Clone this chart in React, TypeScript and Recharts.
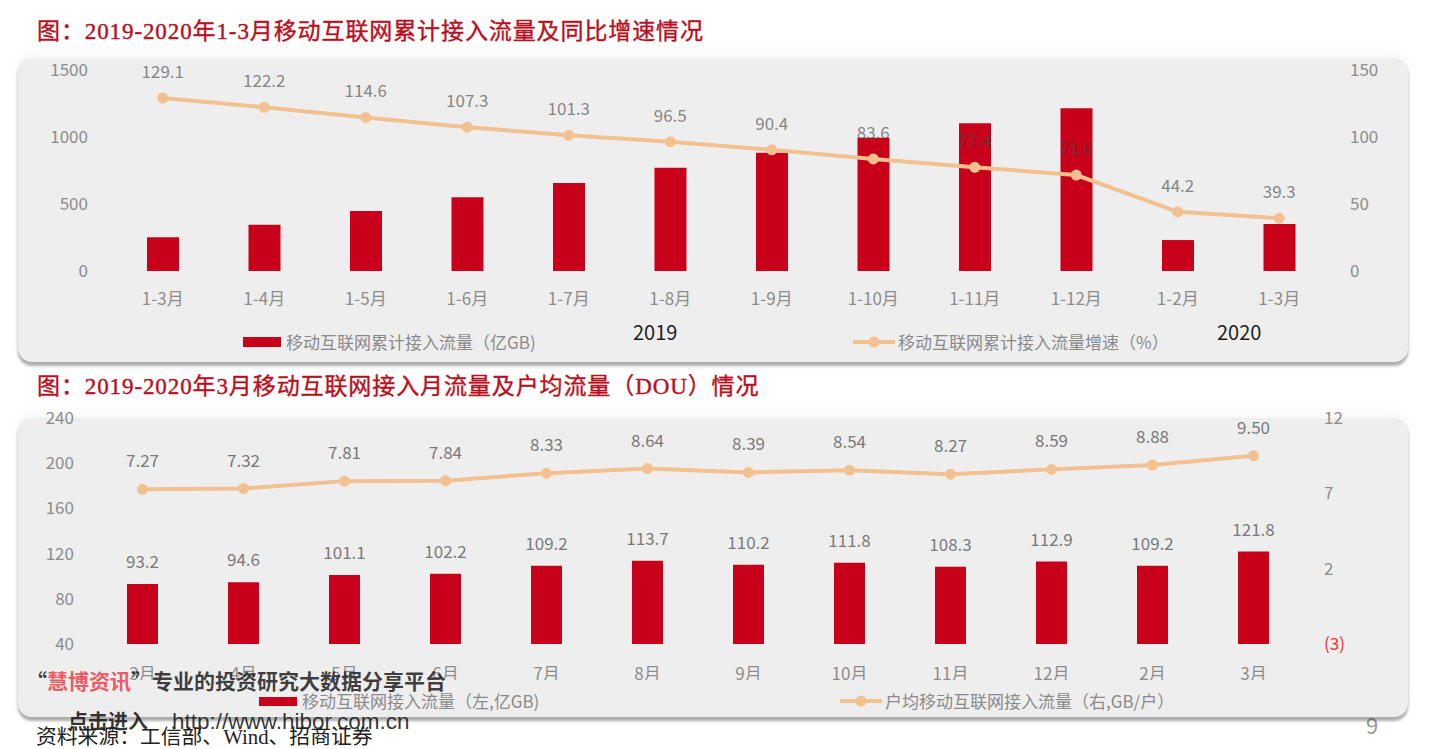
import React from 'react';
import { ComposedChart, Bar, Line, XAxis, YAxis, LabelList } from 'recharts';

// ---- Chart 1: cumulative traffic (1-N months) ----
const cumCategories = ['1-3月', '1-4月', '1-5月', '1-6月', '1-7月', '1-8月', '1-9月', '1-10月', '1-11月', '1-12月', '1-2月', '1-3月'];
const cumTraffic = [251, 346, 448, 550, 657, 771, 883, 995, 1102, 1214, 231, 351];
const cumGrowth = [129.1, 122.2, 114.6, 107.3, 101.3, 96.5, 90.4, 83.6, 77.4, 71.6, 44.2, 39.3];
const cumLeftTicks = [0, 500, 1000, 1500];
const cumRightTicks = [0, 50, 100, 150];
const cumYears = ['2019', '2020'];

// ---- Chart 2: monthly traffic and DOU ----
const monthCategories = ['3月', '4月', '5月', '6月', '7月', '8月', '9月', '10月', '11月', '12月', '2月', '3月'];
const monthTraffic = [93.2, 94.6, 101.1, 102.2, 109.2, 113.7, 110.2, 111.8, 108.3, 112.9, 109.2, 121.8];
const monthDou = [7.27, 7.32, 7.81, 7.84, 8.33, 8.64, 8.39, 8.54, 8.27, 8.59, 8.88, 9.5];
const monthLeftTicks = [40, 80, 120, 160, 200, 240];
const monthRightTicks = [-3, 2, 7, 12];

const cumData = cumCategories.map((name, i) => ({ name, traffic: cumTraffic[i], growth: cumGrowth[i] }));
const monthData = monthCategories.map((name, i) => ({ name, traffic: monthTraffic[i], dou: monthDou[i] }));

const FONT = "'Noto Sans CJK SC', 'Noto Sans', sans-serif";
const SERIF = "'Liberation Serif', 'DejaVu Serif', 'Noto Sans CJK SC', serif";
const BAR = '#c8001a';
const LINE = '#f3c08f';
const TICK = '#8c8c8c';
const LABEL = '#7a7a7a';
const TITLE = '#b8101e';

const tickStyle = { fill: TICK, fontSize: 17, fontFamily: FONT };

const RightTick = (props: any) => {
  const { x, y, payload } = props;
  const v = payload.value as number;
  const neg = v < 0;
  return (
    <text x={x} y={y} dy="0.355em" textAnchor="start" fontSize={17} fontFamily={FONT} fill={neg ? '#ff2a2a' : TICK}>
      {neg ? `(${Math.abs(v)})` : `${v}`}
    </text>
  );
};

const cardStyle = (top: number, height: number): React.CSSProperties => ({
  position: 'absolute',
  left: 18,
  top,
  width: 1390,
  height,
  background: '#eeeeef',
  borderRadius: 14,
  boxShadow: '0 4px 3px rgba(0,0,0,0.32), 0 -6px 14px rgba(0,0,0,0.04)',
});

const titleStyle = (top: number): React.CSSProperties => ({
  position: 'absolute',
  left: 37,
  top,
  fontFamily: SERIF,
  fontSize: 23,
  color: TITLE,
  letterSpacing: 0.9,
  whiteSpace: 'nowrap',
  lineHeight: '30px',
  WebkitTextStroke: '0.4px ' + TITLE,
});

const legendText: React.CSSProperties = {
  position: 'absolute',
  fontFamily: FONT,
  fontSize: 17,
  color: '#8a8a8a',
  whiteSpace: 'nowrap',
  lineHeight: '20px',
};

const LineSwatch = ({ left, top }: { left: number; top: number }) => (
  <svg style={{ position: 'absolute', left, top }} width={44} height={14}>
    <line x1={1} y1={7} x2={43} y2={7} stroke={LINE} strokeWidth={4} />
    <circle cx={22} cy={7} r={5.5} fill={LINE} />
  </svg>
);

export default function App() {
  return (
    <div style={{ position: 'absolute', left: 0, top: 0, width: 1440, height: 749, background: '#ffffff', overflow: 'hidden' }}>
      {/* page number behind card */}
      <div style={{ position: 'absolute', left: 1366, top: 708, fontFamily: FONT, fontSize: 22, color: '#9a9a9a' }}>9</div>

      {/* ---------- Top panel ---------- */}
      <div style={titleStyle(17)}>图：2019-2020年1-3月移动互联网累计接入流量及同比增速情况</div>
      <div style={cardStyle(58, 304)} />
      <div style={{ position: 'absolute', left: 0, top: 0 }}>
        <ComposedChart width={1440} height={330} data={cumData} margin={{ top: 70, right: 50, bottom: 19, left: 52 }} style={{ fontFamily: FONT }}>
          <XAxis dataKey="name" interval={0} tickLine={false} axisLine={false} tick={tickStyle} tickMargin={16} height={40} />
          <YAxis yAxisId="left" orientation="left" domain={[0, 1500]} ticks={cumLeftTicks} tickLine={false} axisLine={false} tick={tickStyle} tickMargin={18} width={60} />
          <YAxis yAxisId="right" orientation="right" domain={[0, 150]} ticks={cumRightTicks} tickLine={false} axisLine={false} tick={<RightTick />} tickMargin={14} width={60} />
          <Bar yAxisId="left" dataKey="traffic" fill={BAR} barSize={32} isAnimationActive={false} />
          <Line yAxisId="right" dataKey="growth" stroke={LINE} strokeWidth={4} dot={{ r: 5.5, fill: LINE, stroke: LINE, strokeWidth: 0 }} isAnimationActive={false}>
            <LabelList dataKey="growth" position="top" offset={20} fill="rgba(70,70,70,0.65)" fontSize={17} fontFamily={FONT} />
          </Line>
        </ComposedChart>
      </div>
      {/* year group labels */}
      <div style={{ position: 'absolute', left: 633, top: 319, fontFamily: FONT, fontSize: 20, color: '#1e1e1e', lineHeight: '26px' }}>{cumYears[0]}</div>
      <div style={{ position: 'absolute', left: 1217, top: 319, fontFamily: FONT, fontSize: 20, color: '#1e1e1e', lineHeight: '26px' }}>{cumYears[1]}</div>
      {/* legend */}
      <div style={{ position: 'absolute', left: 243, top: 337, width: 38, height: 10, background: BAR }} />
      <div style={{ ...legendText, left: 286, top: 332 }}>移动互联网累计接入流量（亿GB)</div>
      <LineSwatch left={852} top={335} />
      <div style={{ ...legendText, left: 898, top: 332 }}>移动互联网累计接入流量增速（%）</div>

      {/* ---------- Bottom panel ---------- */}
      <div style={titleStyle(372)}>图：2019-2020年3月移动互联网接入月流量及户均流量（DOU）情况</div>
      <div style={cardStyle(418, 299)} />
      <div style={{ position: 'absolute', left: 0, top: 380 }}>
        <ComposedChart width={1440} height={300} data={monthData} margin={{ top: 38, right: 76, bottom: 0, left: 32 }} style={{ fontFamily: FONT }}>
          <XAxis dataKey="name" interval={0} tickLine={false} axisLine={false} tick={tickStyle} tickMargin={18} height={36} />
          <YAxis yAxisId="left" orientation="left" domain={[40, 240]} ticks={monthLeftTicks} tickLine={false} axisLine={false} tick={tickStyle} tickMargin={12} width={60} />
          <YAxis yAxisId="right" orientation="right" domain={[-3, 12]} ticks={monthRightTicks} tickLine={false} axisLine={false} tick={<RightTick />} tickMargin={14} width={60} />
          <Bar yAxisId="left" dataKey="traffic" fill={BAR} barSize={31} isAnimationActive={false}>
            <LabelList dataKey="traffic" position="top" offset={16} fill={LABEL} fontSize={17} fontFamily={FONT} />
          </Bar>
          <Line yAxisId="right" dataKey="dou" stroke={LINE} strokeWidth={4} dot={{ r: 5.5, fill: LINE, stroke: LINE, strokeWidth: 0 }} isAnimationActive={false}>
            <LabelList dataKey="dou" position="top" offset={22} fill={LABEL} fontSize={17} fontFamily={FONT} formatter={(v: any) => Number(v).toFixed(2)} />
          </Line>
        </ComposedChart>
      </div>
      {/* legend */}
      <div style={{ position: 'absolute', left: 259, top: 697, width: 38, height: 9, background: BAR }} />
      <div style={{ ...legendText, left: 302, top: 691 }}>移动互联网接入流量（左,亿GB)</div>
      <LineSwatch left={839} top={694} />
      <div style={{ ...legendText, left: 885, top: 691 }}>户均移动互联网接入流量（右,GB/户）</div>

      {/* ---------- Watermark / source ---------- */}
      <div style={{ position: 'absolute', left: 26, top: 666, fontFamily: FONT, fontSize: 21, fontWeight: 'bold', color: 'rgba(30,30,30,0.85)', whiteSpace: 'nowrap', lineHeight: '28px' }}>
        “<span style={{ color: 'rgba(236,70,80,0.9)' }}>慧博资讯</span>”专业的投资研究大数据分享平台
      </div>
      <div style={{ position: 'absolute', left: 68, top: 707, fontFamily: "'Liberation Sans', 'Noto Sans CJK SC', sans-serif", fontSize: 22.5, color: 'rgba(25,25,25,0.88)', whiteSpace: 'nowrap', lineHeight: '28px' }}>
        <span style={{ fontFamily: FONT, fontSize: 20, fontWeight: 'bold' }}>点击进入</span><span style={{ display: 'inline-block', width: 24 }} />http://www.hibor.com.cn
      </div>
      <div style={{ position: 'absolute', left: 36, top: 724, fontFamily: SERIF, fontSize: 20.8, color: '#222', whiteSpace: 'nowrap', lineHeight: '26px' }}>
        资料来源：工信部、Wind、招商证券
      </div>
    </div>
  );
}
